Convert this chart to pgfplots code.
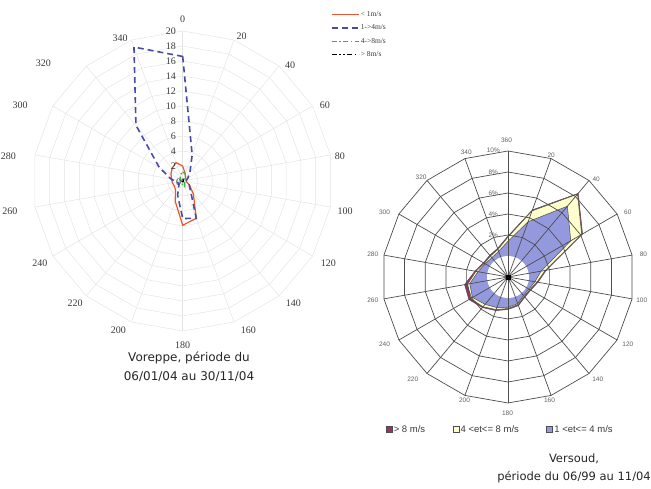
\documentclass[border=0pt]{standalone}
\usepackage{fontspec}
\setmainfont{Liberation Serif}
\newfontfamily\capfont{DejaVu Sans}
\newfontfamily\lsans{Liberation Sans}
\usepackage{pgfplots}
\usepackage{pgfplotstable}
\pgfplotsset{compat=1.18}
\definecolor{gridL}{HTML}{E4E4E4}
\definecolor{cRed}{HTML}{E8552F}
\definecolor{cBlue}{HTML}{4B4AA6}
\definecolor{cGreen}{HTML}{3DAF45}
\definecolor{gridR}{HTML}{4D4D4D}
\definecolor{cMaroon}{HTML}{993366}
\definecolor{cCream}{HTML}{FFFFCC}
\definecolor{cPeri}{HTML}{9499DD}
\definecolor{txt}{HTML}{3A3A3A}

% Voreppe: direction (deg), frequency per speed class
\pgfplotstableread{
dir lt1 b14 b48 gt8
0   2.0 16.6 1.2 0.3
20  1.0 3.7  1.0 0.2
40  0.6 1.5  0.5 0.1
60  0.5 0.8  0.3 0.1
80  0.5 0.5  0.2 0.1
100 0.5 0.6  0.2 0.1
120 1.0 1.0  0.3 0.1
140 2.2 1.6  0.4 0.1
160 5.3 5.3  0.8 0.1
180 5.9 5.0  0.6 0.1
200 2.9 2.0  0.3 0.1
220 1.5 0.8  0.2 0.1
240 1.3 0.6  0.2 0.1
260 1.4 0.8  0.2 0.1
280 1.5 1.6  0.2 0.1
300 1.8 3.6  0.3 0.1
320 2.2 9.7  0.5 0.1
340 2.6 19.0 0.9 0.2
360 2.0 16.6 1.2 0.3
}\voreppe

% Versoud: direction (deg), percent
\pgfplotstableread{
dir gt8 b48 b14
0   1.9 1.8 1.4
20  4.8 4.7 3.6
40  8.4 8.3 6.8
60  6.2 6.1 4.9
80  1.7 1.6 1.2
100 0.9 0.8 0.6
120 0.5 0.4 0.3
140 0.5 0.4 0.3
160 0.9 0.8 0.7
180 1.1 1.0 0.9
200 1.4 1.3 1.1
220 1.8 1.7 1.4
240 2.3 2.1 1.9
260 2.2 1.9 1.7
280 1.2 1.1 0.9
300 0.7 0.6 0.5
320 0.7 0.6 0.4
340 0.9 0.8 0.6
360 1.9 1.8 1.4
}\versoud

\begin{document}
\begin{tikzpicture}

% ---------------- Voreppe ----------------
\begin{axis}[at={(0pt,109pt)},anchor=south west,scale only axis,width=360pt,height=380pt,
 xmin=-24.36,xmax=23.64,ymin=-26.53,ymax=24.13, axis lines=none, clip=false,
 legend style={at={(axis cs:19.77,22.75)},anchor=north west,draw=none,fill=none,
   font=\fontsize{7.5}{8}\selectfont, text=txt, inner sep=0pt, row sep=4.8pt,
   nodes={inner sep=1pt}},
 legend cell align=left,
 legend image code/.code={\draw[#1] (0pt,0pt) -- (27pt,0pt);},
]
\pgfplotsinvokeforeach{2,4,...,20}{
 \addplot[forget plot, gridL, line width=0.5pt, data cs=polar] coordinates {(10,#1)(30,#1)(50,#1)(70,#1)(90,#1)(110,#1)(130,#1)(150,#1)(170,#1)(190,#1)(210,#1)(230,#1)(250,#1)(270,#1)(290,#1)(310,#1)(330,#1)(350,#1)(370,#1)};
}
\pgfplotsinvokeforeach{10,30,...,350}{
 \addplot[forget plot, gridL, line width=0.5pt, data cs=polar] coordinates {(#1,0)(#1,20)};
}
\addplot[color=cRed, line width=1.2pt, data cs=polar] table[x expr=90-\thisrow{dir}, y=lt1]{\voreppe};
\addlegendentry{< 1m/s}
\addplot[color=cBlue, line width=1.6pt, dash pattern=on 6pt off 4pt, data cs=polar] table[x expr=90-\thisrow{dir}, y=b14]{\voreppe};
\addlegendentry{1->4m/s}
\addplot[color=cGreen, line width=1.3pt, dash pattern=on 5pt off 2.5pt on 1.5pt off 2.5pt, data cs=polar] table[x expr=90-\thisrow{dir}, y=b48]{\voreppe};
\addlegendentry{4->8m/s}
\addplot[color=black, line width=1.2pt, dash pattern=on 5pt off 2.5pt on 1.5pt off 2.5pt on 1.5pt off 2.5pt, data cs=polar] table[x expr=90-\thisrow{dir}, y=gt8]{\voreppe};
\addlegendentry{> 8m/s}

\begin{scope}[every node/.style={font=\fontsize{10}{12}\selectfont, text=txt, inner sep=0pt}]
\pgfplotsinvokeforeach{2,4,...,20}{\node[anchor=east] at (axis cs:-0.9,#1) {#1};}
\node[anchor=east] at (axis cs:-0.2,-0.1) {0};
\node at (axis cs:0,21.6) {0};
\node at (axis cs:7.87,19.24) {20};
\node at (axis cs:14.31,15.47) {40};
\node at (axis cs:18.97,10.13) {60};
\node at (axis cs:20.97,3.24) {80};
\node at (axis cs:21.64,-4.09) {100};
\node at (axis cs:19.41,-10.97) {120};
\node at (axis cs:14.75,-16.31) {140};
\node at (axis cs:8.75,-19.87) {160};
\node at (axis cs:0,-21.87) {180};
\node at (axis cs:-8.59,-19.87) {200};
\node at (axis cs:-14.36,-16.31) {220};
\node at (axis cs:-19.03,-10.97) {240};
\node at (axis cs:-23.03,-4.09) {260};
\node at (axis cs:-23.25,3.24) {280};
\node at (axis cs:-21.69,10.13) {300};
\node at (axis cs:-18.59,15.69) {320};
\node at (axis cs:-8.36,19.03) {340};
\end{scope}
\end{axis}

% ---------------- Versoud ----------------
\begin{axis}[at={(360pt,0pt)},anchor=south west,scale only axis,width=291pt,height=389pt,
 xmin=-14.095,xmax=13.619,ymin=-20.19,ymax=16.857, axis lines=none, clip=false,
 legend style={at={(axis cs:-11.65,-14.52)},anchor=west,draw=none,fill=none,legend columns=3,
   font=\lsans\fontsize{9.5}{11}\selectfont, text=txt, inner sep=0pt,
   /tikz/every even column/.append style={column sep=26pt}, nodes={inner sep=1.5pt}},
 legend image code/.code={\draw[#1,draw=gridR,line width=0.4pt] (0pt,-3pt) rectangle (6pt,3pt);},
]
\addplot[fill=cMaroon, draw=gridR, line width=0.5pt, data cs=polar] table[x expr=90-\thisrow{dir}, y expr=\thisrow{gt8}+2]{\versoud};
\addlegendentry{> 8 m/s}
\addplot[fill=cCream, draw=gridR, line width=0.5pt, data cs=polar] table[x expr=90-\thisrow{dir}, y expr=\thisrow{b48}+2]{\versoud};
\addlegendentry{4 <et<= 8 m/s}
\addplot[fill=cPeri, draw=gridR, line width=0.5pt, data cs=polar] table[x expr=90-\thisrow{dir}, y expr=\thisrow{b14}+2]{\versoud};
\addlegendentry{1 <et<= 4 m/s}
\addplot[forget plot, fill=white, draw=none, data cs=polar] coordinates {(0,2)(10,2)(20,2)(30,2)(40,2)(50,2)(60,2)(70,2)(80,2)(90,2)(100,2)(110,2)(120,2)(130,2)(140,2)(150,2)(160,2)(170,2)(180,2)(190,2)(200,2)(210,2)(220,2)(230,2)(240,2)(250,2)(260,2)(270,2)(280,2)(290,2)(300,2)(310,2)(320,2)(330,2)(340,2)(350,2)(360,2)};
\pgfplotsinvokeforeach{4,6,...,12}{
 \addplot[forget plot, gridR, line width=0.7pt, data cs=polar] coordinates {(10,#1)(30,#1)(50,#1)(70,#1)(90,#1)(110,#1)(130,#1)(150,#1)(170,#1)(190,#1)(210,#1)(230,#1)(250,#1)(270,#1)(290,#1)(310,#1)(330,#1)(350,#1)(370,#1)};
}
\pgfplotsinvokeforeach{10,30,...,350}{
 \addplot[forget plot, gridR, line width=0.7pt, data cs=polar] coordinates {(#1,0)(#1,12)};
}
\addplot[forget plot, only marks, mark=square*, mark size=1.8pt, black] coordinates {(0,0)};

\begin{scope}[every node/.style={font=\lsans\fontsize{6.5}{8}\selectfont, text=txt!80, inner sep=0pt}]
\node at (axis cs:-1.4,12.05) {10\%};
\node at (axis cs:-1.4,10.0) {8\%};
\node at (axis cs:-1.4,8.0) {6\%};
\node at (axis cs:-1.4,6.0) {4\%};
\node at (axis cs:-1.4,4.0) {2\%};
\node at (axis cs:-0.14,13.0) {360};
\node at (axis cs:4.11,11.57) {20};
\node at (axis cs:8.40,9.35) {40};
\node at (axis cs:11.41,6.17) {60};
\node at (axis cs:12.9,2.21) {80};
\node at (axis cs:12.74,-2.24) {100};
\node at (axis cs:11.41,-6.36) {120};
\node at (axis cs:8.55,-9.70) {140};
\node at (axis cs:3.95,-11.76) {160};
\node at (axis cs:-0.05,-12.95) {180};
\node at (axis cs:-4.14,-11.76) {200};
\node at (axis cs:-9.07,-9.70) {220};
\node at (axis cs:-11.76,-6.36) {240};
\node at (axis cs:-12.88,-2.24) {260};
\node at (axis cs:-12.88,2.21) {280};
\node at (axis cs:-11.76,6.17) {300};
\node at (axis cs:-8.27,9.50) {320};
\node at (axis cs:-3.98,11.89) {340};
\end{scope}
\end{axis}

% captions
\node[font=\capfont\fontsize{12}{19}\selectfont, align=center, anchor=north, inner sep=0pt, text=black!85] at (189pt,137pt) {Voreppe, période du\\06/01/04 au 30/11/04};
\node[font=\capfont\fontsize{11.5}{18}\selectfont, align=center, anchor=north east, inner sep=0pt, text=black!85] at (651pt,35pt) {Versoud,\\période du 06/99 au 11/04};

\pgfresetboundingbox
\path[use as bounding box] (0pt,0pt) rectangle (651pt,489pt);
\end{tikzpicture}
\end{document}
